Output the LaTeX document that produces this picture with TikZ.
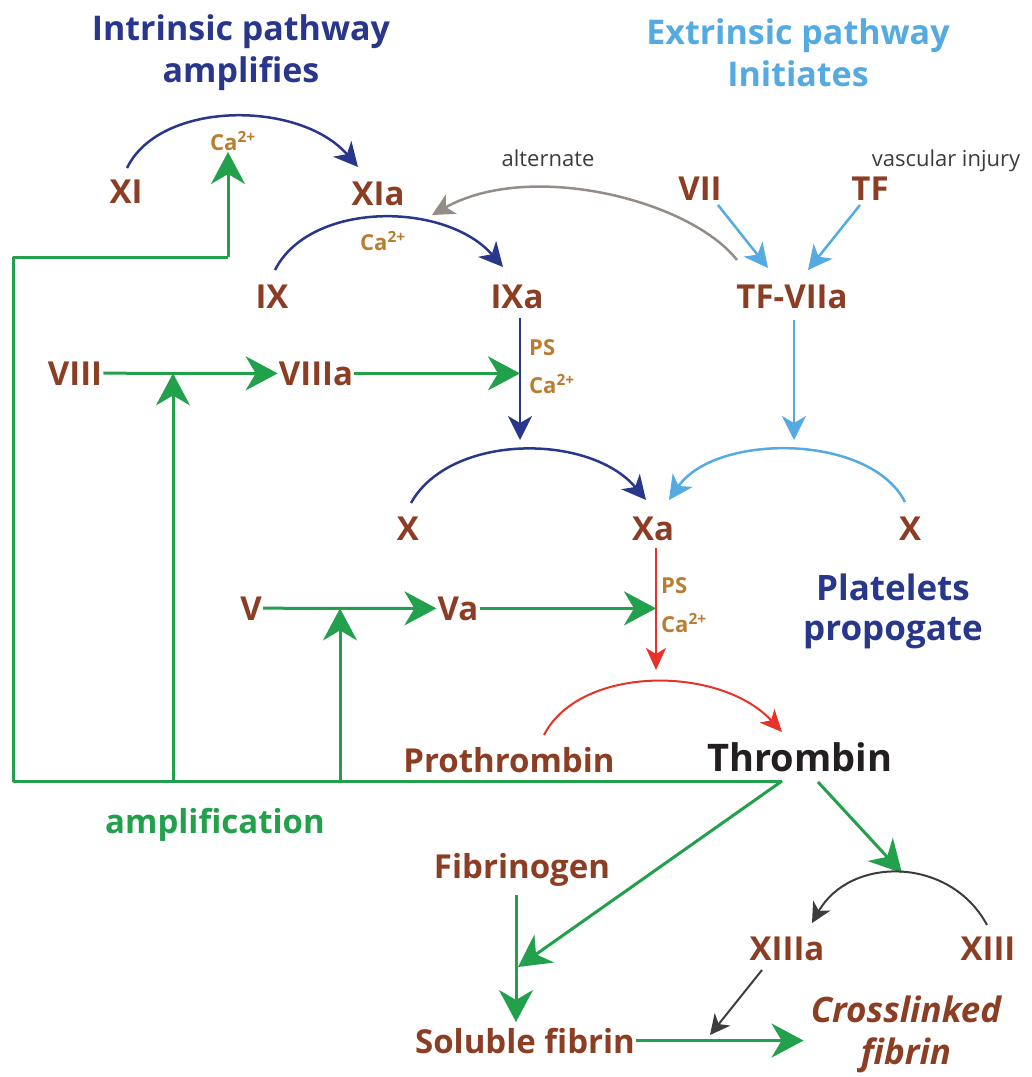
\documentclass[tikz,border=0pt]{standalone}
\usepackage{fontspec}
\setmainfont{Open Sans}
\usetikzlibrary{arrows.meta}
\definecolor{brn}{HTML}{8B3E23}
\definecolor{grn}{HTML}{23A04B}
\definecolor{dblu}{HTML}{28378C}
\definecolor{lblu}{HTML}{55AAE1}
\definecolor{rd}{HTML}{E6322A}
\definecolor{gld}{HTML}{B97D32}
\definecolor{gry}{HTML}{968C87}
\definecolor{blk}{HTML}{231F20}
\definecolor{dkg}{HTML}{3C3C3C}
\begin{document}
\begin{tikzpicture}[x=1pt,y=-1pt,line join=round,
  fac/.style={text=brn,font=\fontsize{33}{38}\selectfont\bfseries,inner sep=1pt,anchor=base},
  ttl/.style={font=\fontsize{34}{42}\selectfont\bfseries,align=center,inner sep=0pt},
  smtxt/.style={text=dkg,font=\fontsize{22}{24}\selectfont,inner sep=0pt,anchor=base},
  cof/.style={text=gld,font=\fontsize{22}{24}\selectfont\bfseries,inner sep=0pt,anchor=base west},
  gline/.style={draw=grn,line width=3pt},
  garr/.style={draw=grn,line width=3pt,-{Stealth[length=32pt,width=34pt,inset=10pt]}},
  barr/.style={draw=dblu,line width=2.5pt,-{Stealth[length=24pt,width=24pt,inset=7pt]}},
  lbarr/.style={draw=lblu,line width=2.5pt,-{Stealth[length=24pt,width=24pt,inset=7pt]}},
  rarr/.style={draw=rd,line width=2pt,-{Stealth[length=22pt,width=20pt,inset=6pt]}},
  gyarr/.style={draw=gry,line width=2.5pt,-{Stealth[length=22pt,width=22pt,inset=6pt]}},
  dkarr/.style={draw=dkg,line width=2pt,-{Stealth[length=20pt,width=20pt,inset=6pt]}}
]
\fill[white] (0,0) rectangle (1032,1077);
\useasboundingbox (0,0) rectangle (1032,1077);

% titles
\node[ttl,text=dblu] (tin) at (241,53) {Intrinsic pathway\\amplifies};
\node[ttl,text=lblu] (tex) at (798,53) {Extrinsic pathway\\Initiates};
\node[ttl,text=dblu,font=\fontsize{35}{40}\selectfont\bfseries] (tpl) at (893,611) {Platelets\\propogate};
\node[ttl,text=grn,font=\fontsize{33}{40}\selectfont\bfseries,anchor=base] (amp) at (215,833) {amplification};
\node[smtxt] (alt) at (548,166) {alternate};
\node[smtxt] (vas) at (946,166) {vascular injury};

% factors
\node[fac] (XI) at (126,203) {XI};
\node[fac] (XIa) at (378,205) {XIa};
\node[fac] (VII) at (700,200) {VII};
\node[fac] (TF) at (870,200) {TF};
\node[fac] (IX) at (272,308) {IX};
\node[fac] (IXa) at (517,308) {IXa};
\node[fac] (TFVIIa) at (792,308) {TF-VIIa};
\node[fac] (VIII) at (75,385) {VIII};
\node[fac] (VIIIa) at (316,385) {VIIIa};
\node[fac] (X1) at (408,540) {X};
\node[fac] (Xa) at (653,540) {Xa};
\node[fac] (X2) at (910,540) {X};
\node[fac] (V) at (251,620) {V};
\node[fac] (Va) at (458,620) {Va};
\node[fac] (Pro) at (509,772) {Prothrombin};
\node[fac,text=blk,font=\fontsize{38}{42}\selectfont\bfseries] (Thr) at (800,771) {Thrombin};
\node[fac] (Fbg) at (522,878) {Fibrinogen};
\node[fac] (Sol) at (525,1053) {Soluble fibrin};
\node[fac] (XIIIa) at (787,960) {XIIIa};
\node[fac] (XIII) at (988,960) {XIII};
\node[fac,font=\fontsize{35}{42}\selectfont\bfseries\itshape,align=center,anchor=center] (Cross) at (906,1034) {Crosslinked\\fibrin};

% cofactors
\node[cof] (Ca1) at (210,150) {Ca\textsuperscript{2+}};
\node[cof] (Ca2) at (360,250) {Ca\textsuperscript{2+}};
\node[cof] (PS1) at (529,355) {PS};
\node[cof] (Ca3) at (529,393) {Ca\textsuperscript{2+}};
\node[cof] (PS2) at (661,593) {PS};
\node[cof] (Ca4) at (661,632) {Ca\textsuperscript{2+}};

% intrinsic arcs
\draw[barr] ([shift={(1,-35)}]XI.base) .. controls (160,100) and (300,100) .. ([shift={(-20,-38)}]XIa.base);
\draw[barr] ([shift={(3,-38)}]IX.base) .. controls (310,201) and (445,201) .. ([shift={(-14,-41)}]IXa.base);
% alternate
\draw[gyarr] ([shift={(-55,-48)}]TFVIIa.base) .. controls (690,200) and (530,160) .. ([shift={(54,10)}]XIa.base);
% extrinsic
\draw[lbarr] ([shift={(18,5)}]VII.base) -- ([shift={(-24,-40)}]TFVIIa.base);
\draw[lbarr] ([shift={(-10,5)}]TF.base) -- ([shift={(16,-38)}]TFVIIa.base);
\draw[lbarr] ([shift={(2,12)}]TFVIIa.base) -- ([shift={(2,132)}]TFVIIa.base);
\draw[barr] ([shift={(3,10)}]IXa.base) -- ([shift={(3,132)}]IXa.base);
% X arcs
\draw[barr] ([shift={(3,-37)}]X1.base) .. controls (450,433) and (590,433) .. ([shift={(-7,-40)}]Xa.base);
\draw[lbarr] ([shift={(-5,-38)}]X2.base) .. controls (870,433) and (715,433) .. ([shift={(16,-40)}]Xa.base);
% Xa to thrombin
\draw[rarr] ([shift={(3,8)}]Xa.base) -- ([shift={(3,130)}]Xa.base);
\draw[rarr] ([shift={(35,-37)}]Pro.base) .. controls (580,665) and (720,665) .. ([shift={(-18,-39)}]Thr.base);

% green cofactor arrows
\draw[garr] (VIII.east) -- (VIIIa.west);
\draw[garr] (VIIIa.east) -- ([shift={(3,0)}]IXa.base |- VIIIa.east);
\draw[garr] (V.east) -- (Va.west);
\draw[garr] (Va.east) -- ([shift={(3,0)}]Xa.base |- Va.east);

% amplification feedback
\coordinate (apex) at ([shift={(-18,10)}]Thr.base);
\coordinate (cBL) at (13,781);
\coordinate (cTL) at (13,257);
\coordinate (cTR) at (228,257);
\coordinate (b1) at (173,781);
\coordinate (b2) at (340,781);
\draw[gline] (apex) -- (cBL) -- (cTL) -- (cTR);
\draw[garr] (cTR) -- ([shift={(18,2)}]Ca1.base west);
\draw[garr] (b1) -- (b1 |- VIIIa.east);
\draw[garr] (b2) -- (b2 |- Va.east);

% fibrin
\draw[garr] (apex) -- ([shift={(-7,-86)}]Sol.base);
\draw[garr] ([shift={(-6,17)}]Fbg.base) -- ([shift={(-9,-31)}]Sol.base);
\coordinate (pk) at ([shift={(-86,-87)}]XIII.base);
\draw[garr] ([shift={(18,11)}]Thr.base) -- (pk);
\draw[dkarr] ([shift={(-1,-35)}]XIII.base) .. controls (950,856) and (850,856) .. ([shift={(25,-37)}]XIIIa.base);
\draw[dkarr] ([shift={(-25,10)}]XIIIa.base) -- ([shift={(185,-18)}]Sol.base);
\draw[garr,shorten >=6pt] (Sol.east) -- (Sol.east -| Cross.west);
\end{tikzpicture}
\end{document}
